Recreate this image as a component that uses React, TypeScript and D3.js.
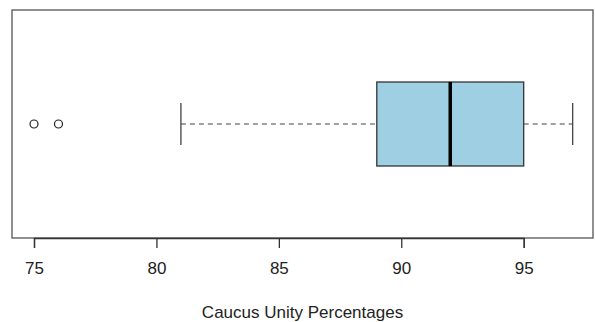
import React from "react";
import * as d3 from "d3";

// five-number summary
const whiskerLow = 81;
const q1 = 89;
const median = 92;
const q3 = 95;
const whiskerHigh = 97;
const outliers = [75, 76];
const ticks = [75, 80, 85, 90, 95];
const xLabel = "Caucus Unity Percentages";

const W = 595;
const H = 322;

const BoxPlot = () => {
  const svg = React.useRef<SVGSVGElement>(null);

  React.useEffect(() => {
    drawChart(svg);
  }, [svg]);

  return <svg ref={svg} width={W} height={H} style={{ display: "block" }} />;
};

function drawChart(svgRef: React.RefObject<SVGSVGElement>) {
  const svg = d3.select(svgRef.current);
  svg.selectAll("*").remove();

  const left = 12;
  const right = 593;
  const top = 10;
  const bottom = 238;
  const cy = 124;
  const boxH = 84;
  const capH = 42;

  // x scale
  const x = d3.scaleLinear().domain([75, 95]).range([34, 523.7]);

  svg.append("rect").attr("width", W).attr("height", H).attr("fill", "#fff");

  // plot frame
  svg
    .append("rect")
    .attr("x", left)
    .attr("y", top)
    .attr("width", right - left)
    .attr("height", bottom - top)
    .attr("fill", "none")
    .attr("stroke", "#555")
    .attr("stroke-width", 1.3);

  // whiskers (dashed)
  const g = svg.append("g");
  g.append("line")
    .attr("x1", x(whiskerLow))
    .attr("x2", x(q1))
    .attr("y1", cy)
    .attr("y2", cy)
    .attr("stroke", "#444")
    .attr("stroke-width", 1.2)
    .attr("stroke-dasharray", "5,4");
  g.append("line")
    .attr("x1", x(q3))
    .attr("x2", x(whiskerHigh))
    .attr("y1", cy)
    .attr("y2", cy)
    .attr("stroke", "#444")
    .attr("stroke-width", 1.2)
    .attr("stroke-dasharray", "5,4");

  // whisker caps
  g.selectAll("line.cap")
    .data([whiskerLow, whiskerHigh])
    .enter()
    .append("line")
    .attr("class", "cap")
    .attr("x1", (d) => x(d))
    .attr("x2", (d) => x(d))
    .attr("y1", cy - capH / 2)
    .attr("y2", cy + capH / 2)
    .attr("stroke", "#444")
    .attr("stroke-width", 1.3);

  // box
  g.append("rect")
    .attr("x", x(q1))
    .attr("y", cy - boxH / 2)
    .attr("width", x(q3) - x(q1))
    .attr("height", boxH)
    .attr("fill", "#9ecfe2")
    .attr("stroke", "#333")
    .attr("stroke-width", 1.3);

  // median
  g.append("line")
    .attr("x1", x(median))
    .attr("x2", x(median))
    .attr("y1", cy - boxH / 2)
    .attr("y2", cy + boxH / 2)
    .attr("stroke", "#000")
    .attr("stroke-width", 3.5);

  // outliers
  g.selectAll("circle")
    .data(outliers)
    .enter()
    .append("circle")
    .attr("cx", (d) => x(d))
    .attr("cy", cy)
    .attr("r", 4)
    .attr("fill", "none")
    .attr("stroke", "#222")
    .attr("stroke-width", 1.2);

  // x axis
  const xAxis = d3.axisBottom(x).tickValues(ticks).tickSize(10).tickPadding(14);
  const ax = svg
    .append("g")
    .attr("transform", "translate(0," + bottom + ")")
    .call(xAxis);
  ax.select(".domain").attr("stroke", "#333").attr("stroke-width", 1.3);
  ax.selectAll(".tick line").attr("stroke", "#333").attr("stroke-width", 1.3);
  ax.selectAll("text")
    .attr("font-family", "Liberation Sans, Arial, sans-serif")
    .attr("font-size", 17)
    .attr("fill", "#222");

  // axis title
  svg
    .append("text")
    .attr("x", (left + right) / 2)
    .attr("y", 318)
    .attr("text-anchor", "middle")
    .attr("font-family", "Liberation Sans, Arial, sans-serif")
    .attr("font-size", 17)
    .attr("fill", "#222")
    .text(xLabel);
}

export default function App() {
  return (
    <div style={{ position: "absolute", left: 0, top: 0 }}>
      <BoxPlot />
    </div>
  );
}
